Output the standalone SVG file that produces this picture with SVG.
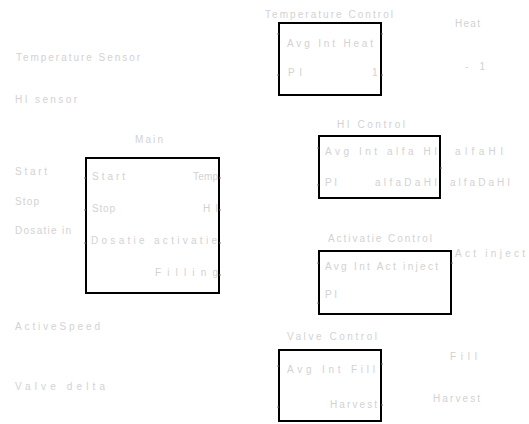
<svg xmlns="http://www.w3.org/2000/svg" width="529" height="424" viewBox="0 0 529 424">
<style>
text{font-family:"Liberation Sans",Arial,sans-serif;font-size:10px;fill:#d2d2d2;lengthAdjust:spacing}
.blk{fill:#fff;stroke:#000;stroke-width:2}
.end{text-anchor:end}
.tick{stroke:#777;stroke-width:1}
</style>
<rect width="529" height="424" fill="#fff"/>
<g id="labels-left">
<text x="16" y="61" textLength="124">Temperature Sensor</text>
<text x="15" y="103" textLength="62">HI sensor</text>
<text x="15" y="175" textLength="32">Start</text>
<text x="15" y="205" textLength="24">Stop</text>
<text x="15" y="234" textLength="56">Dosatie in</text>
<text x="15" y="330" textLength="85">ActiveSpeed</text>
<text x="15" y="390" textLength="90">Valve delta</text>
</g>
<g id="main">
<text x="135" y="143" textLength="28">Main</text>
<rect class="blk" x="86" y="158" width="133" height="135"/>
<text x="92" y="180" textLength="33">Start</text>
<text x="193" y="180" textLength="25">Temp</text>
<text x="92" y="212" textLength="23">Stop</text>
<text x="203" y="212" textLength="15">HI</text>
<text x="91" y="244" textLength="126">Dosatie activatie</text>
<text x="155" y="276" textLength="63">Filling</text>
</g>
<g id="temperature-control">
<text x="265" y="18" textLength="128">Temperature Control</text>
<rect class="blk" x="279" y="23" width="102" height="72"/>
<text x="287" y="47" textLength="86">Avg Int Heat</text>
<text x="288" y="76" textLength="14">PI</text>
<text x="372" y="76" textLength="5">1</text>
<text x="455" y="27" textLength="25">Heat</text>
<text x="465" y="70" textLength="20">- 1</text>
</g>
<g id="hi-control">
<text x="337" y="128" textLength="68">HI Control</text>
<rect class="blk" x="319" y="136" width="121" height="62"/>
<text x="325" y="155" textLength="112">Avg Int alfa HI</text>
<text x="325" y="186" textLength="12">PI</text>
<text x="375" y="186" textLength="62">alfaDaHI</text>
<text x="455" y="155" textLength="48">alfaHI</text>
<text x="450" y="186" textLength="60">alfaDaHI</text>
</g>
<g id="activatie-control">
<text x="328" y="242" textLength="104">Activatie Control</text>
<rect class="blk" x="319" y="251" width="132" height="63"/>
<text x="325" y="270" textLength="113">Avg Int Act inject</text>
<text x="325" y="298" textLength="12">PI</text>
<text x="455" y="257" textLength="70">Act inject</text>
</g>
<g id="valve-control">
<text x="287" y="340" textLength="90">Valve Control</text>
<rect class="blk" x="279" y="350" width="102" height="71"/>
<text x="287" y="373" textLength="88">Avg Int Fill</text>
<text x="330" y="408" textLength="47">Harvest</text>
<text x="450" y="360" textLength="27">Fill</text>
<text x="433" y="402" textLength="47">Harvest</text>
</g>
<g id="connectors">
<path class="tick" d="M84 178h2M84 210h2M84 243h2M219 178h2M219 210h2M219 243h2M219 275h2M277 34h2M277 75h2M381 34h2M381 75h2M317 148h2M317 185h2M440 168h2M317 263h2M317 303h2M451 263h2M277 366h2M277 407h2M381 364h2M381 405h2"/>
</g>
</svg>
